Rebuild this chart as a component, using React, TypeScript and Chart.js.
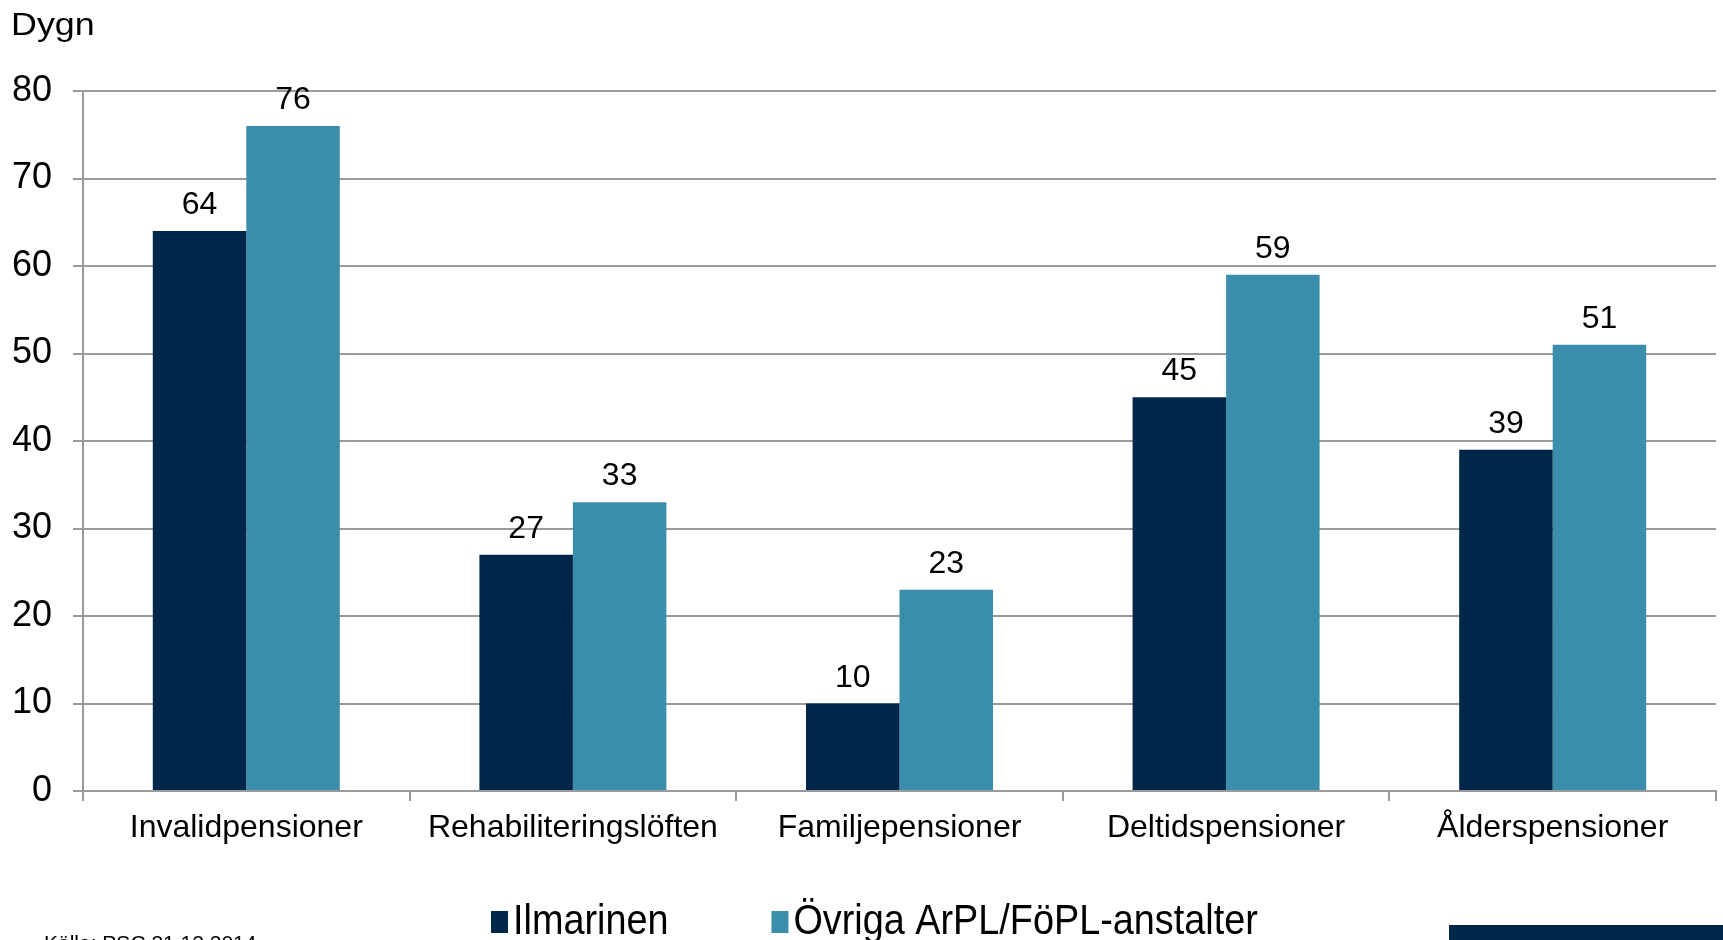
import React, { useEffect, useRef } from 'react';
import { Chart, registerables } from 'chart.js';

Chart.register(...registerables);

const categories = [
  'Invalidpensioner',
  'Rehabiliteringslöften',
  'Familjepensioner',
  'Deltidspensioner',
  'Ålderspensioner',
];
const ilmarinenValues = [64, 27, 10, 45, 39];
const ovrigaValues = [76, 33, 23, 59, 51];
const seriesNames = ['Ilmarinen', 'Övriga ArPL/FöPL-anstalter'];
const yMin = 0;
const yMax = 80;
const yStep = 10;
const yUnit = 'Dygn';
const sourceNote = 'Källa: PSC 31.12.2014';

const FONT = "'Liberation Sans', Arial, Helvetica, sans-serif";
const DARK = '#00264a';
const LIGHT = '#3a8eab';
const GRID = '#9a9a9a';

const overlayPlugin = {
  id: 'overlay',
  afterDatasetsDraw(chart: any) {
    const ctx = chart.ctx;
    ctx.save();
    ctx.fillStyle = '#000';
    ctx.font = `32px ${FONT}`;
    ctx.textAlign = 'center';
    ctx.textBaseline = 'alphabetic';
    chart.data.datasets.forEach((ds: any, i: number) => {
      const meta = chart.getDatasetMeta(i);
      meta.data.forEach((el: any, j: number) => {
        ctx.fillText(String(ds.data[j]), el.x, el.y - 17);
      });
    });
    ctx.restore();
  },
  afterDraw(chart: any) {
    const ctx = chart.ctx;
    ctx.save();
    // unit label
    ctx.fillStyle = '#000';
    ctx.textAlign = 'left';
    ctx.textBaseline = 'alphabetic';
    ctx.font = `32px ${FONT}`;
    ctx.save();
    ctx.translate(11, 35);
    ctx.scale(1.12, 1);
    ctx.fillText(yUnit, 0, 0);
    ctx.restore();

    // legend
    let x = 491;
    const boxTop = 911;
    const boxH = 22;
    const boxW = 17;
    const baseline = 934;
    const sx = 0.9;
    chart.data.datasets.forEach((ds: any) => {
      ctx.fillStyle = ds.backgroundColor;
      ctx.fillRect(x, boxTop, boxW, boxH);
      const tx = x + boxW + 5;
      ctx.font = `42px ${FONT}`;
      const w = ctx.measureText(ds.label).width * sx;
      ctx.save();
      ctx.translate(tx, baseline);
      ctx.scale(sx, 1);
      ctx.fillStyle = '#000';
      ctx.textAlign = 'left';
      ctx.fillText(ds.label, 0, 0);
      ctx.restore();
      x = tx + w + 103;
    });

    // source note
    ctx.fillStyle = '#000';
    ctx.font = `21px ${FONT}`;
    ctx.textAlign = 'left';
    ctx.fillText(sourceNote, 44, 950);

    // decorative bar bottom right
    ctx.fillStyle = DARK;
    ctx.fillRect(1449, 925, 274, 15);
    ctx.restore();
  },
};

export default function App() {
  const canvasRef = useRef<HTMLCanvasElement | null>(null);

  useEffect(() => {
    const canvas = canvasRef.current;
    if (!canvas) return;
    const chart = new Chart(canvas, {
      type: 'bar',
      data: {
        labels: categories,
        datasets: [
          {
            label: seriesNames[0],
            data: ilmarinenValues,
            backgroundColor: DARK,
            borderWidth: 0,
            categoryPercentage: 0.5726,
            barPercentage: 1,
          },
          {
            label: seriesNames[1],
            data: ovrigaValues,
            backgroundColor: LIGHT,
            borderWidth: 0,
            categoryPercentage: 0.5726,
            barPercentage: 1,
          },
        ],
      },
      options: {
        responsive: false,
        animation: false,
        devicePixelRatio: 1,
        layout: { padding: { left: 0, right: 7, top: 91, bottom: 89 } },
        plugins: {
          legend: { display: false },
          tooltip: { enabled: false },
          title: { display: false },
        },
        scales: {
          x: {
            type: 'category',
            offset: true,
            grid: {
              offset: true,
              drawOnChartArea: false,
              drawTicks: true,
              tickLength: 10,
              color: GRID,
              lineWidth: 2,
            },
            border: { display: true, color: GRID, width: 2 },
            ticks: {
              color: '#000',
              padding: 8,
              maxRotation: 0,
              autoSkip: false,
              font: { family: FONT, size: 32 },
            },
            afterFit(scale: any) {
              scale.height = 60;
            },
          },
          y: {
            min: yMin,
            max: yMax,
            ticks: {
              stepSize: yStep,
              color: '#000',
              padding: 21,
              font: { family: FONT, size: 36 },
            },
            grid: {
              color: GRID,
              lineWidth: 2,
              drawTicks: true,
              tickLength: 10,
            },
            border: { display: true, color: GRID, width: 2 },
            afterFit(scale: any) {
              scale.width = 83;
            },
          },
        },
      },
      plugins: [overlayPlugin],
    } as any);
    return () => chart.destroy();
  }, []);

  return (
    <div style={{ position: 'fixed', left: 0, top: 0, width: 1723, height: 940, background: '#fff' }}>
      <canvas ref={canvasRef} width={1723} height={940} style={{ display: 'block', width: 1723, height: 940 }} />
    </div>
  );
}
